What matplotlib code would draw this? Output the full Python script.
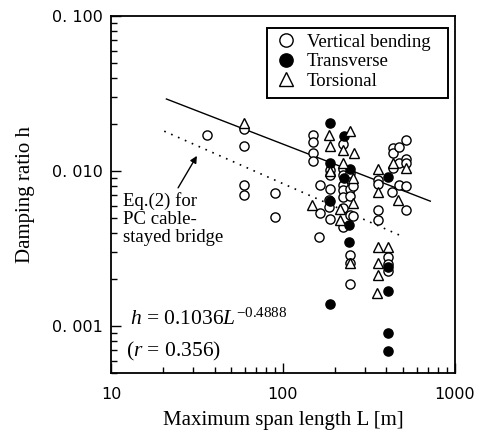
import matplotlib
matplotlib.use("Agg")
import matplotlib.pyplot as plt
from matplotlib.patches import Rectangle
from matplotlib.ticker import FixedLocator, LogLocator, NullFormatter

plt.rcParams['font.family'] = ['Liberation Serif', 'DejaVu Serif']
plt.rcParams['mathtext.fontset'] = 'custom'
plt.rcParams['mathtext.rm'] = 'Liberation Serif'
plt.rcParams['mathtext.it'] = 'Liberation Serif:italic'

# ---- data ----
vert_L = [36, 59, 59, 59, 59, 90, 90,
          149, 149, 149, 149, 164, 164, 162,
          188, 188, 188, 186, 186, 188,
          224, 224, 224, 224, 224, 224, 224, 224,
          245, 245, 245, 245, 255, 255, 247, 247, 247,
          358, 358, 358, 358,
          409, 409, 409,
          434, 434, 434, 430, 472, 472, 472, 519, 519, 519, 519, 519]
vert_h = [0.0171, 0.0188, 0.0145, 0.0081, 0.0070, 0.00718, 0.00507,
          0.0171, 0.0155, 0.0130, 0.0117, 0.00813, 0.00538, 0.00377,
          0.0101, 0.0095, 0.00762, 0.0065, 0.00589, 0.00488,
          0.0150, 0.0103, 0.0094, 0.00813, 0.0075, 0.00683, 0.0058, 0.00437,
          0.0097, 0.0077, 0.0069, 0.0052, 0.0080, 0.0051, 0.00287, 0.00254, 0.00188,
          0.0088, 0.0082, 0.0056, 0.00483,
          0.0028, 0.00228, 0.0025,
          0.0140, 0.0130, 0.0105, 0.0073, 0.0143, 0.0112, 0.0081, 0.0158, 0.0119, 0.0112, 0.0080, 0.0056]

trans_L = [188, 227, 188, 227, 245, 187, 243, 241, 409, 408, 408, 187, 408, 408]
trans_h = [0.0205, 0.0168, 0.0113, 0.00898, 0.01026, 0.0064, 0.00449, 0.00347,
           0.0092, 0.00242, 0.00168, 0.00139, 0.000897, 0.000694]

tors_L = [59, 148, 185, 188, 188, 224, 224, 216, 216, 245, 259, 257, 257, 247,
          356, 356, 356, 356, 356, 353, 409, 434, 469, 519]
tors_h = [0.0203, 0.00607, 0.0171, 0.0146, 0.0100, 0.0137, 0.0112, 0.00567, 0.00483,
          0.0182, 0.0130, 0.0090, 0.0062, 0.00254,
          0.0103, 0.00736, 0.00325, 0.00254, 0.00213, 0.00163, 0.00325, 0.0113, 0.0065, 0.0104]

fit_L = [21, 720]
fit_h = [0.0292, 0.0064]
eq2_L = [20.4, 501]
eq2_h = [0.0181, 0.00377]

x_ticks = [10, 100, 1000]
x_labels = ["10", "100", "1000"]
y_ticks = [0.001, 0.01, 0.1]
y_labels = ["0. 001", "0. 010", "0. 100"]

# ---- figure ----
fig = plt.figure(figsize=(4.88, 4.36), dpi=100)
ax = fig.add_axes([0.2275, 0.145, 0.7045, 0.818])
ax.set_xscale('log')
ax.set_yscale('log')
ax.set_xlim(10, 1000)
ax.set_ylim(0.0005, 0.1)

ms = 6.6
ax.plot(fit_L, fit_h, '-', color='black', lw=1.0)
ax.plot(eq2_L, eq2_h, linestyle=(0, (1, 3.5)), color='black', lw=1.2)

ax.plot(vert_L, vert_h, 'o', mfc='white', mec='black', mew=1.0, ms=ms, ls='none',
        label='Vertical bending')
ax.plot(trans_L, trans_h, 'o', mfc='black', mec='black', mew=1.0, ms=ms, ls='none',
        label='Transverse')
ax.plot(tors_L, tors_h, '^', mfc='white', mec='black', mew=1.0, ms=ms + 0.6, ls='none',
        label='Torsional')

# legend box drawn separately so it can be wider than its content
ax.add_patch(Rectangle((0.453, 0.770), 0.527, 0.196, transform=ax.transAxes,
                       facecolor='white', edgecolor='black', lw=1.4, zorder=4))
leg = ax.legend(loc='upper left', bbox_to_anchor=(0.453, 0.966), frameon=False,
                fontsize=13.5, markerscale=1.45, handletextpad=0.45,
                borderpad=0.3, labelspacing=0.12, handlelength=1.4, borderaxespad=0.0)
leg.set_zorder(5)

ax.annotate('', xy=(32.2, 0.0130), xytext=(24.1, 0.00753),
            arrowprops=dict(arrowstyle='-|>', color='black', lw=1.0, mutation_scale=10))
ax.text(0.035, 0.508, 'Eq.(2) for\nPC cable-\nstayed bridge', transform=ax.transAxes,
        fontsize=13.5, va='top', ha='left', linespacing=1.1)
ax.text(0.055, 0.135, r'$h$ = 0.1036$L^{\mathregular{-0.4888}}$', transform=ax.transAxes,
        fontsize=15.5, va='baseline', ha='left')
ax.text(0.045, 0.045, r'($r$ = 0.356)', transform=ax.transAxes,
        fontsize=15.5, va='baseline', ha='left')

# ticks
ax.xaxis.set_major_locator(FixedLocator(x_ticks))
ax.set_xticklabels(x_labels)
ax.yaxis.set_major_locator(FixedLocator(y_ticks))
ax.set_yticklabels(y_labels)
ax.xaxis.set_minor_locator(LogLocator(base=10, subs=range(2, 10)))
ax.yaxis.set_minor_locator(LogLocator(base=10, subs=range(2, 10)))
ax.xaxis.set_minor_formatter(NullFormatter())
ax.yaxis.set_minor_formatter(NullFormatter())
ax.tick_params(which='both', direction='in', top=False, right=False, width=1.0)
ax.tick_params(which='major', length=7)
ax.tick_params(which='minor', length=4)
for lab in ax.get_xticklabels() + ax.get_yticklabels():
    lab.set_family('DejaVu Sans')
    lab.set_fontsize(11.5)
ax.tick_params(axis='x', pad=10)
ax.tick_params(axis='y', pad=6)

for sp in ax.spines.values():
    sp.set_linewidth(1.3)

ax.set_xlabel('Maximum span length L [m]', fontsize=15, labelpad=7)
ax.set_ylabel('Damping ratio h', fontsize=15, labelpad=12)

fig.savefig('out.png', dpi=100)
